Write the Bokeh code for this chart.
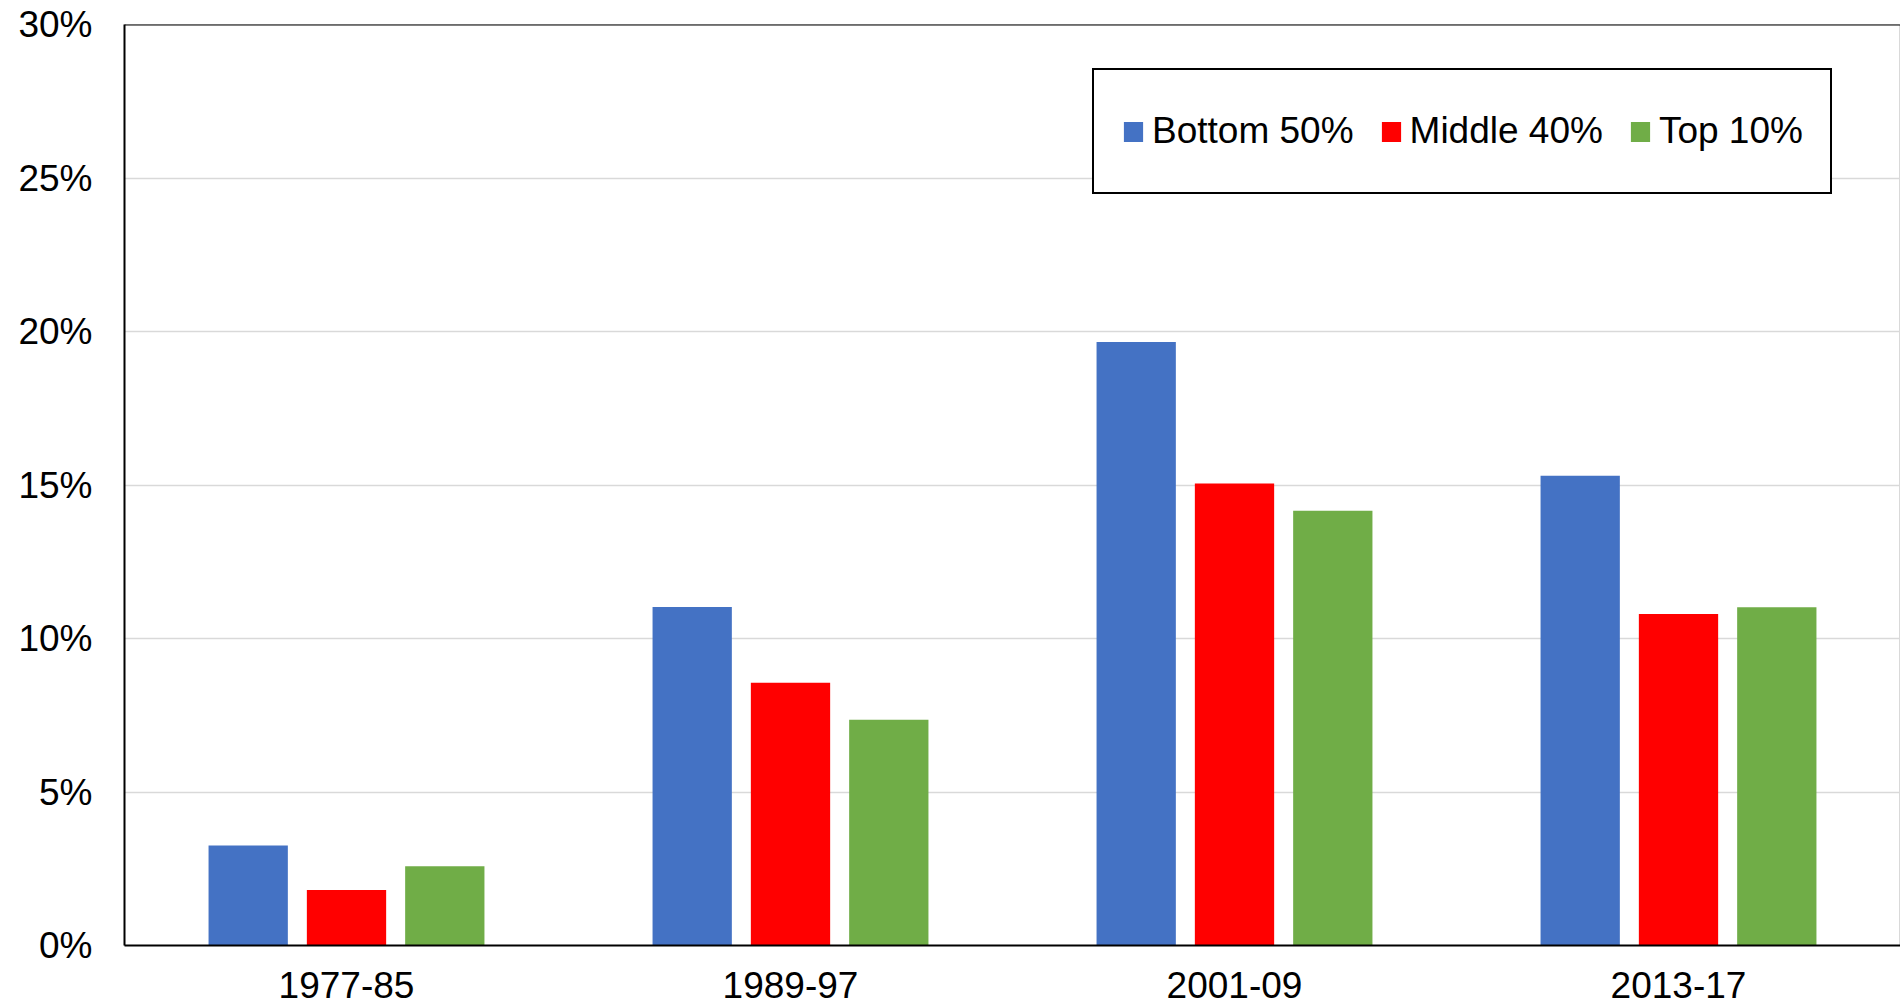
from bokeh.plotting import figure
from bokeh.models import (ColumnDataSource, FactorRange, FixedTicker, PrintfTickFormatter,
                          Legend, LegendItem, Span, Range1d)
from bokeh.transform import dodge
from bokeh.embed import file_html
from bokeh.resources import INLINE

periods = ["1977-85", "1989-97", "2001-09", "2013-17"]
bottom50 = [3.26, 11.03, 19.66, 15.30]
middle40 = [1.81, 8.56, 15.05, 10.80]
top10 = [2.58, 7.35, 14.16, 11.02]
series_labels = ["Bottom 50%", "Middle 40%", "Top 10%"]
yticks = [0, 5, 10, 15, 20, 25, 30]

FONT = "Liberation Sans"
FS = "37px"
colors = ["#4472C4", "#FF0000", "#70AD47"]

src = ColumnDataSource(dict(period=periods, bottom50=bottom50, middle40=middle40, top10=top10))

p = figure(x_range=FactorRange(factors=periods, range_padding=0),
           y_range=Range1d(0, 30),
           width=1900, height=1008, output_backend="svg", toolbar_location=None,
           min_border_left=124, min_border_right=0, min_border_top=24, min_border_bottom=63)

offsets = [-0.2214, 0.0, 0.2214]
renderers = []
for col, off, c in zip(["bottom50", "middle40", "top10"], offsets, colors):
    r = p.vbar(x=dodge("period", off, range=p.x_range), top=col, width=0.1786,
               source=src, fill_color=c, line_color=None)
    renderers.append(r)

p.background_fill_color = "white"
p.border_fill_color = "white"
p.outline_line_color = "#d9d9d9"
p.outline_line_width = 1

p.xgrid.grid_line_color = None
p.ygrid.ticker = FixedTicker(ticks=yticks)
p.ygrid.grid_line_color = "#d9d9d9"
p.ygrid.grid_line_width = 1.5

for ax in (p.xaxis[0], p.yaxis[0]):
    ax.axis_line_color = "black"
    ax.axis_line_width = 2
    ax.major_tick_line_color = None
    ax.minor_tick_line_color = None
    ax.major_tick_out = 0
    ax.major_tick_in = 0
    ax.major_label_text_font = FONT
    ax.major_label_text_font_size = FS
    ax.major_label_text_color = "black"

p.yaxis[0].ticker = FixedTicker(ticks=yticks)
p.yaxis[0].formatter = PrintfTickFormatter(format="%d%%")
p.yaxis[0].major_label_standoff = 32
p.xaxis[0].major_label_standoff = 26
p.xaxis[0].major_label_text_line_height = 0.9

top_line = Span(location=30, dimension="width", line_color="black", line_width=2)
p.add_layout(top_line)

legend = Legend(items=[LegendItem(label=l, renderers=[r]) for l, r in zip(series_labels, renderers)],
                orientation="horizontal", location=(968, 751))
legend.label_text_font = FONT
legend.label_text_font_size = FS
legend.label_text_color = "black"
legend.glyph_width = 24
legend.glyph_height = 25
legend.label_standoff = 7
legend.spacing = 25
legend.padding = 27
legend.label_height = 68
legend.border_line_color = "black"
legend.border_line_alpha = 1.0
legend.border_line_width = 2
legend.background_fill_color = "white"
legend.background_fill_alpha = 1
legend.margin = 0
p.add_layout(legend)

open("out.html", "w").write(file_html(p, INLINE))
